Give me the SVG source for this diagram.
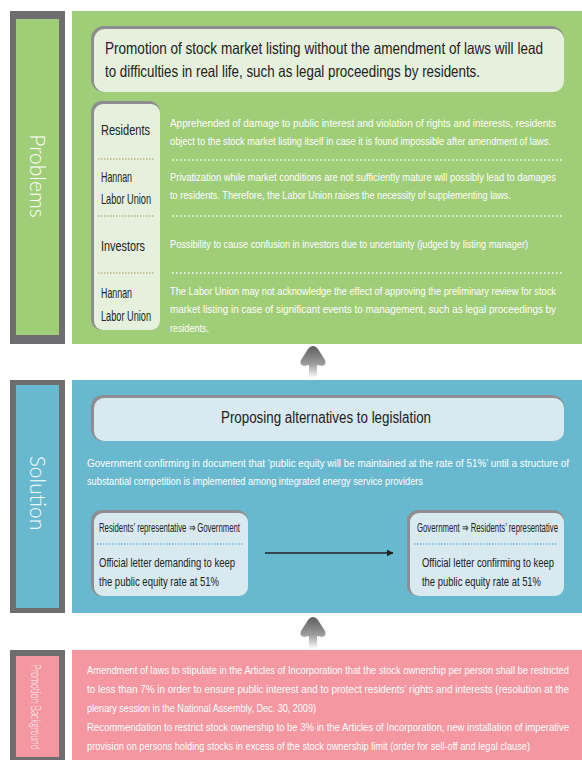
<svg xmlns="http://www.w3.org/2000/svg" width="582" height="760" viewBox="0 0 582 760">
<style>
.frame{fill:#6e6e70}
.green{fill:#a0cd78}
.blue{fill:#68b9cf}
.pink{fill:#f497a1}
.side{font-family:Lato,"Open Sans","Liberation Sans",sans-serif;font-weight:300;fill:#ffffff}
.w{font-family:"Liberation Sans Narrow","Liberation Sans",sans-serif;font-size:11px;fill:#ffffff}
.d{font-family:"Liberation Sans Narrow","Liberation Sans",sans-serif;fill:#222222}
.h{font-family:"Liberation Sans Narrow","Liberation Sans",sans-serif;fill:#222222}
.wdot{stroke:#ffffff;stroke-width:1.5;stroke-dasharray:1.5 2.5;fill:none}
.odot{stroke:#a89a60;stroke-width:1.2;stroke-dasharray:1.5 1.5;fill:none}
.bdot{stroke:#3aa0d0;stroke-width:1.2;stroke-dasharray:1.5 1.5;fill:none}
.shadow{fill:#8e8e90}
</style>
<defs>
<linearGradient id="upg" x1="0" y1="0" x2="0" y2="1">
<stop offset="0" stop-color="#5e5e60"/>
<stop offset="0.55" stop-color="#9a9a9a"/>
<stop offset="1" stop-color="#ffffff"/>
</linearGradient>
<marker id="ah" viewBox="0 0 10 10" refX="9" refY="5" markerWidth="7" markerHeight="7" orient="auto" markerUnits="userSpaceOnUse">
<path d="M0,0 L10,5 L0,10 z" fill="#222"/>
</marker>
</defs>
<rect width="582" height="760" fill="#ffffff"/>

<g id="problems">
<rect class="frame" x="10" y="11" width="55" height="333"/>
<rect class="green" x="16" y="19" width="43" height="316"/>
<text class="side" font-size="21" transform="translate(30,176) rotate(90)" text-anchor="middle">Problems</text>
<rect class="green" x="72" y="11" width="510" height="333"/>
<g id="problems-title">
<rect class="shadow" x="91" y="26" width="473" height="66" rx="13"/>
<rect fill="#e5f0dd" x="94" y="29" width="470" height="63" rx="11"/>
<text class="h" font-size="16.5" x="105" y="54" textLength="438" lengthAdjust="spacingAndGlyphs">Promotion of stock market listing without the amendment of laws will lead</text>
<text class="h" font-size="16.5" x="105" y="77" textLength="375" lengthAdjust="spacingAndGlyphs">to difficulties in real life, such as legal proceedings by residents.</text>
</g>
<g id="problems-labels">
<rect class="shadow" x="91" y="101" width="69" height="229" rx="11"/>
<rect fill="#e5f0dd" x="94" y="104" width="66" height="226" rx="9"/>
<text class="d" font-size="15" x="101" y="135" textLength="49" lengthAdjust="spacingAndGlyphs">Residents</text>
<line class="odot" x1="98" y1="159" x2="155" y2="159"/>
<text class="d" font-size="15" x="101" y="182" textLength="31" lengthAdjust="spacingAndGlyphs">Hannan</text>
<text class="d" font-size="15" x="101" y="204" textLength="50" lengthAdjust="spacingAndGlyphs">Labor Union</text>
<line class="odot" x1="98" y1="216" x2="155" y2="216"/>
<text class="d" font-size="15" x="101" y="251" textLength="44" lengthAdjust="spacingAndGlyphs">Investors</text>
<line class="odot" x1="98" y1="273" x2="155" y2="273"/>
<text class="d" font-size="15" x="101" y="298" textLength="31" lengthAdjust="spacingAndGlyphs">Hannan</text>
<text class="d" font-size="15" x="101" y="321" textLength="50" lengthAdjust="spacingAndGlyphs">Labor Union</text>
</g>
<g id="problems-details">
<text class="w" x="170" y="127" textLength="386" lengthAdjust="spacingAndGlyphs">Apprehended of damage to public interest and violation of rights and interests, residents</text>
<text class="w" x="170" y="145" textLength="381" lengthAdjust="spacingAndGlyphs">object to the stock market listing itself in case it is found impossible after amendment of laws.</text>
<line class="wdot" x1="172" y1="160" x2="562" y2="160"/>
<text class="w" x="170" y="181" textLength="386" lengthAdjust="spacingAndGlyphs">Privatization while market conditions are not sufficiently mature will possibly lead to damages</text>
<text class="w" x="170" y="199" textLength="341" lengthAdjust="spacingAndGlyphs">to residents. Therefore, the Labor Union raises the necessity of supplementing laws.</text>
<line class="wdot" x1="172" y1="216" x2="562" y2="216"/>
<text class="w" x="170" y="248" textLength="358" lengthAdjust="spacingAndGlyphs">Possibility to cause confusion in investors due to uncertainty (judged by listing manager)</text>
<line class="wdot" x1="172" y1="273" x2="562" y2="273"/>
<text class="w" x="170" y="295" textLength="386" lengthAdjust="spacingAndGlyphs">The Labor Union may not acknowledge the effect of approving the preliminary review for stock</text>
<text class="w" x="170" y="313" textLength="386" lengthAdjust="spacingAndGlyphs">market listing in case of significant events to management, such as legal proceedings by</text>
<text class="w" x="170" y="332" textLength="39" lengthAdjust="spacingAndGlyphs">residents.</text>
</g>
</g>

<g id="solution">
<rect class="frame" x="10" y="380" width="55" height="233"/>
<rect class="blue" x="16" y="385" width="43" height="223"/>
<text class="side" font-size="21" transform="translate(30,493) rotate(90)" text-anchor="middle">Solution</text>
<rect class="blue" x="72" y="380" width="510" height="233"/>
<g id="solution-title">
<rect class="shadow" x="91" y="395" width="473" height="46" rx="12"/>
<rect fill="#d8e9f0" x="94" y="398" width="470" height="43" rx="10"/>
<text class="h" font-size="16" x="221" y="423" textLength="210" lengthAdjust="spacingAndGlyphs">Proposing alternatives to legislation</text>
</g>
<text class="w" x="87" y="467" textLength="482" lengthAdjust="spacingAndGlyphs">Government confirming in document that ‘public equity will be maintained at the rate of 51%’ until a structure of</text>
<text class="w" x="87" y="485" textLength="336" lengthAdjust="spacingAndGlyphs">substantial competition is implemented among integrated energy service providers</text>
<g id="box-residents">
<rect class="shadow" x="91" y="510" width="157" height="86" rx="11"/>
<rect fill="#d8e9f0" x="94" y="513" width="154" height="83" rx="9"/>
<text class="d" font-size="13" x="99" y="532" textLength="141" lengthAdjust="spacingAndGlyphs">Residents’  representative ⇒ Government</text>
<line class="bdot" x1="97" y1="544" x2="243" y2="544"/>
<text class="d" font-size="13.5" x="99" y="567" textLength="136" lengthAdjust="spacingAndGlyphs">Official letter demanding to keep</text>
<text class="d" font-size="13.5" x="99" y="586" textLength="120" lengthAdjust="spacingAndGlyphs">the public equity rate at 51%</text>
</g>
<g id="box-government">
<rect class="shadow" x="407" y="510" width="157" height="86" rx="11"/>
<rect fill="#d8e9f0" x="410" y="513" width="154" height="83" rx="9"/>
<text class="d" font-size="13" x="417" y="532" textLength="141" lengthAdjust="spacingAndGlyphs">Government ⇒ Residents’  representative</text>
<line class="bdot" x1="414" y1="544" x2="557" y2="544"/>
<text class="d" font-size="13.5" x="422" y="567" textLength="132" lengthAdjust="spacingAndGlyphs">Official letter confirming to keep</text>
<text class="d" font-size="13.5" x="422" y="586" textLength="119" lengthAdjust="spacingAndGlyphs">the public equity rate at 51%</text>
</g>
</g>

<g id="background">
<rect class="frame" x="10" y="650" width="55" height="110"/>
<rect class="pink" x="16" y="656" width="43" height="101"/>
<text class="side" font-family="Liberation Sans Narrow,Liberation Sans,sans-serif" font-weight="400" font-size="13" transform="translate(31,707) rotate(90)" text-anchor="middle" textLength="85" lengthAdjust="spacingAndGlyphs">Promotion Background</text>
<rect class="pink" x="72" y="650" width="510" height="110"/>
<text class="w" x="87" y="674" textLength="482" lengthAdjust="spacingAndGlyphs">Amendment of laws to stipulate in the Articles of Incorporation that the stock ownership per person shall be restricted</text>
<text class="w" x="87" y="693" textLength="482" lengthAdjust="spacingAndGlyphs">to less than 7% in order to ensure public interest and to protect residents’ rights and interests (resolution at the</text>
<text class="w" x="87" y="712" textLength="229" lengthAdjust="spacingAndGlyphs">plenary session in the National Assembly, Dec. 30, 2009)</text>
<text class="w" x="87" y="731" textLength="482" lengthAdjust="spacingAndGlyphs">Recommendation to restrict stock ownership to be 3% in the Articles of Incorporation, new installation of imperative</text>
<text class="w" x="87" y="750" textLength="443" lengthAdjust="spacingAndGlyphs">provision on persons holding stocks in excess of the stock ownership limit (order for sell-off and legal clause)</text>
</g>

<g id="connectors">
<path d="M313,346 Q316,346 318,349 L325,360 Q327,365 322,366 L317,365 L317,378 L309,378 L309,365 L304,366 Q299,365 301,360 L308,349 Q310,346 313,346 z" fill="url(#upg)"/>
<path d="M313,617 Q316,617 318,620 L325,631 Q327,636 322,637 L317,636 L317,649 L309,649 L309,636 L304,637 Q299,636 301,631 L308,620 Q310,617 313,617 z" fill="url(#upg)"/>
<line x1="265" y1="553" x2="393" y2="553" stroke="#222" stroke-width="1.6" marker-end="url(#ah)"/>
</g>
</svg>
